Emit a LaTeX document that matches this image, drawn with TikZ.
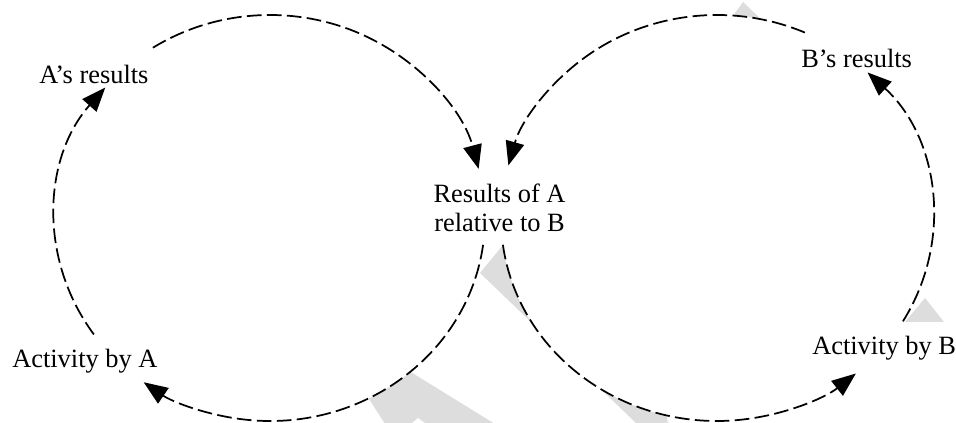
\documentclass[tikz,border=0pt]{standalone}
\usepackage{fontspec}
\setmainfont{Liberation Serif}
\usetikzlibrary{arrows.meta}
\definecolor{wmgray}{RGB}{221,221,221}
\begin{document}
\begin{tikzpicture}[x=0.75pt,y=0.75pt,yscale=-1,xscale=1,
  cyclearc/.style={draw=black,line width=1.3pt,dash pattern=on 11pt off 4pt,-{Triangle[length=18pt,width=14pt]}},
  lbl/.style={inner sep=0pt,font=\fontsize{19.8pt}{21.75pt}\selectfont},
  wmark/.style={fill=wmgray,draw=none}]
\useasboundingbox (0,0) rectangle (956,423);

%Shape: watermark pieces (mostly behind the loops)
\path[wmark] (743,2) -- (727,24) -- (766,24) -- cycle;
\path[wmark] (925,298) -- (905,322) -- (944,322) -- cycle;
\path[wmark] (480,273) -- (503,245) -- (640,245) -- (668,424) -- (637,424) -- cycle;
\path[wmark] (385,424) -- (357,380) -- (375,350) -- (495,424) -- cycle;
\fill[white] (418,418) -- (411,424) -- (426,424) -- cycle;

%Shape: loop centres
\coordinate (cA) at (270,218);
\coordinate (cB) at (717,218);
\fill[white] (cA) ellipse [x radius=215, y radius=203];
\fill[white] (cB) ellipse [x radius=216, y radius=203];

%Shape: arc starts on loop A
\coordinate (a1) at ([shift={(-123:215 and 203)}]cA);
\coordinate (a2) at ([shift={(7.6:215 and 203)}]cA);
\coordinate (a3) at ([shift={(145:215 and 203)}]cA);
%Shape: arc starts on loop B
\coordinate (b1) at ([shift={(-66:216 and 203)}]cB);
\coordinate (b2) at ([shift={(172.4:216 and 203)}]cB);
\coordinate (b3) at ([shift={(30.6:216 and 203)}]cB);

%Arc: loop A
\draw[cyclearc] (a1) arc[start angle=-123, end angle=-14, x radius=215, y radius=203];
\draw[cyclearc] (a2) arc[start angle=7.6, end angle=126, x radius=215, y radius=203];
\draw[cyclearc] (a3) arc[start angle=145, end angle=220, x radius=215, y radius=203];
%Arc: loop B
\draw[cyclearc] (b1) arc[start angle=-66, end angle=-165, x radius=216, y radius=203];
\draw[cyclearc] (b2) arc[start angle=172.4, end angle=50, x radius=216, y radius=203];
\draw[cyclearc] (b3) arc[start angle=30.6, end angle=-45.8, x radius=216, y radius=203];

% Text Node
\node[lbl,anchor=base west] (ares) at (39,84) {A’s results};
% Text Node
\node[lbl,anchor=base west] (acta) at (12,368) {Activity by A};
% Text Node
\node[lbl,anchor=north,align=center] (rel) at (499.5,184) {Results of A\\relative to B};
% Text Node
\node[lbl,anchor=base west] (bres) at (801,68) {B’s results};
% Text Node
\node[lbl,anchor=base west] (actb) at (812,355) {Activity by B};
\end{tikzpicture}
\end{document}
